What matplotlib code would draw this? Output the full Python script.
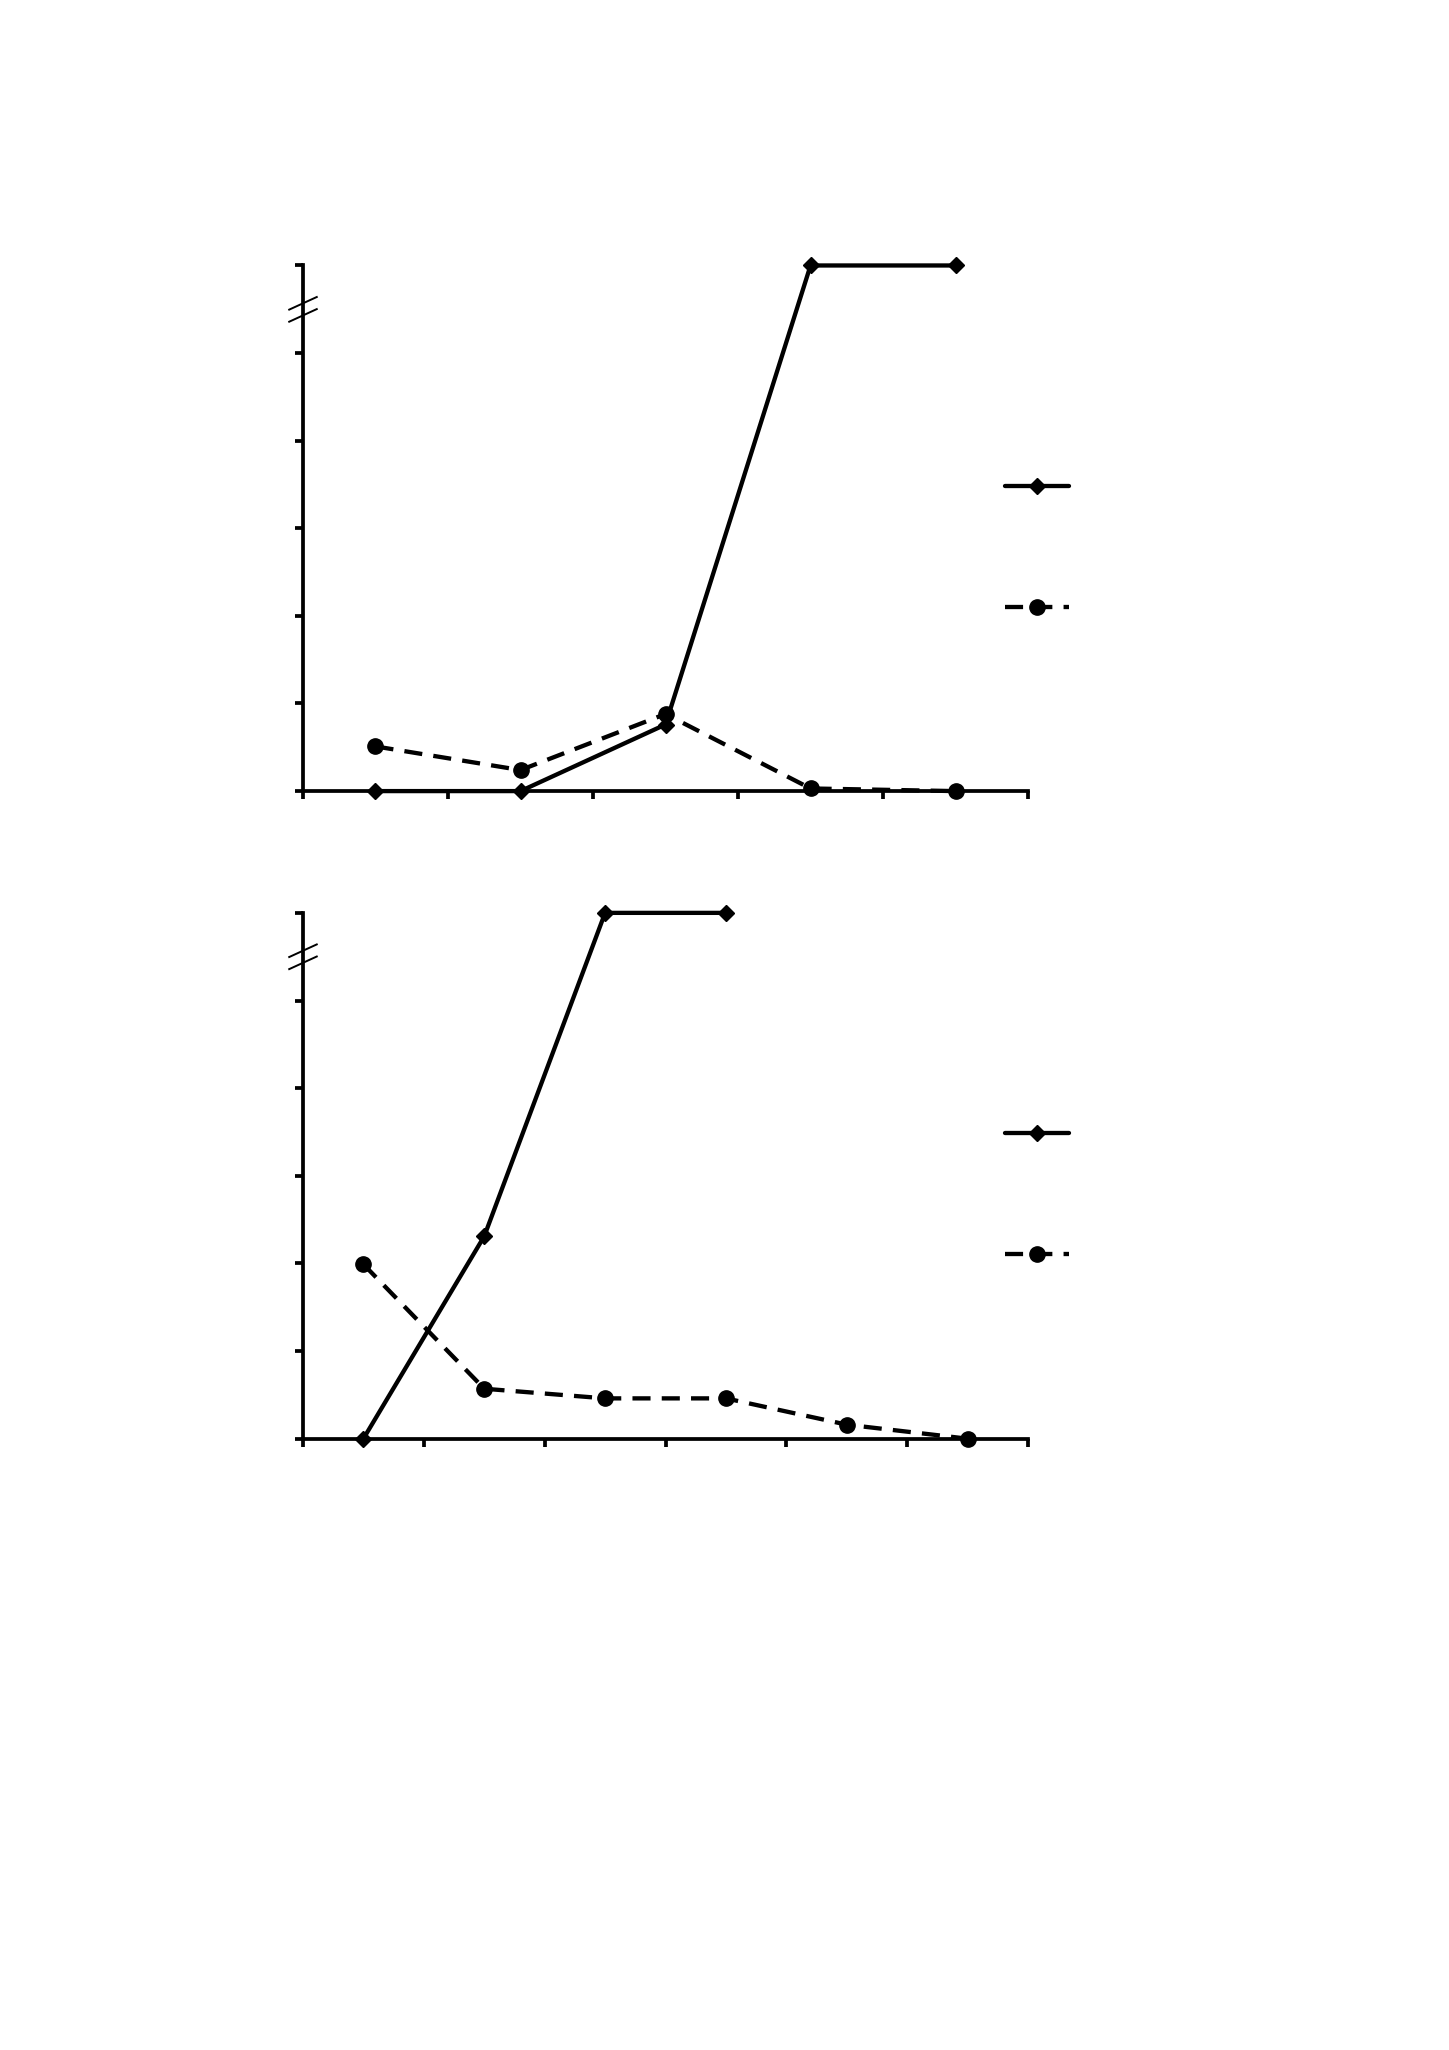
import numpy as np
import matplotlib
matplotlib.use("Agg")
import matplotlib.pyplot as plt

# top panel: 5 categories
top_x = [1, 2, 3, 4, 5]
top_solid = [0.0, 0.0, 0.76, 6.0, 6.0]
top_dashed = [0.51, 0.24, 0.88, 0.03, 0.0]

# bottom panel: 6 categories (solid series stops after 4)
bot_x = [1, 2, 3, 4, 5, 6]
bot_solid = [0.0, 2.31, 6.0, 6.0, np.nan, np.nan]
bot_dashed = [1.99, 0.57, 0.46, 0.46, 0.16, 0.0]

LW = 3.1


def panel(ax, x, solid, dashed, ncat):
    s, = ax.plot(x, solid, '-', color='black', lw=LW, marker='D', ms=8.5,
                 solid_capstyle='round', clip_on=False, zorder=3)
    d, = ax.plot(x, dashed, '--', color='black', lw=LW, marker='o', ms=11,
                 dashes=(4.2, 2.6), clip_on=False, zorder=3)
    ax.set_xlim(0.5, ncat + 0.5)
    ax.set_ylim(0, 6)
    ax.set_xticks(np.arange(0.5, ncat + 1, 1))
    ax.set_yticks(np.arange(0, 7, 1))
    ax.set_xticklabels([])
    ax.set_yticklabels([])
    for side in ['top', 'right']:
        ax.spines[side].set_visible(False)
    for side in ['left', 'bottom']:
        ax.spines[side].set_linewidth(2.7)
    ax.tick_params(direction='out', length=6, width=2.7)
    # axis break marks
    for yb in (0.928, 0.905):
        ax.plot([-0.019, 0.019], [yb - 0.012, yb + 0.012], color='black',
                lw=1.4, transform=ax.transAxes, clip_on=False)
    leg = ax.legend([s, d], ['', ''], loc='upper left',
                    bbox_to_anchor=(0.96, 0.603), frameon=False,
                    handlelength=4.6, fontsize=10, labelspacing=7.7,
                    numpoints=1, borderaxespad=0, handletextpad=0)
    return leg


fig = plt.figure(figsize=(14.49, 20.5), dpi=100)
ax1 = fig.add_axes([0.2091, 0.6141, 0.5004, 0.2564])
ax2 = fig.add_axes([0.2091, 0.2982, 0.5004, 0.2565])
panel(ax1, top_x, top_solid, top_dashed, 5)
panel(ax2, bot_x, bot_solid, bot_dashed, 6)

fig.savefig("out.png", dpi=100)
